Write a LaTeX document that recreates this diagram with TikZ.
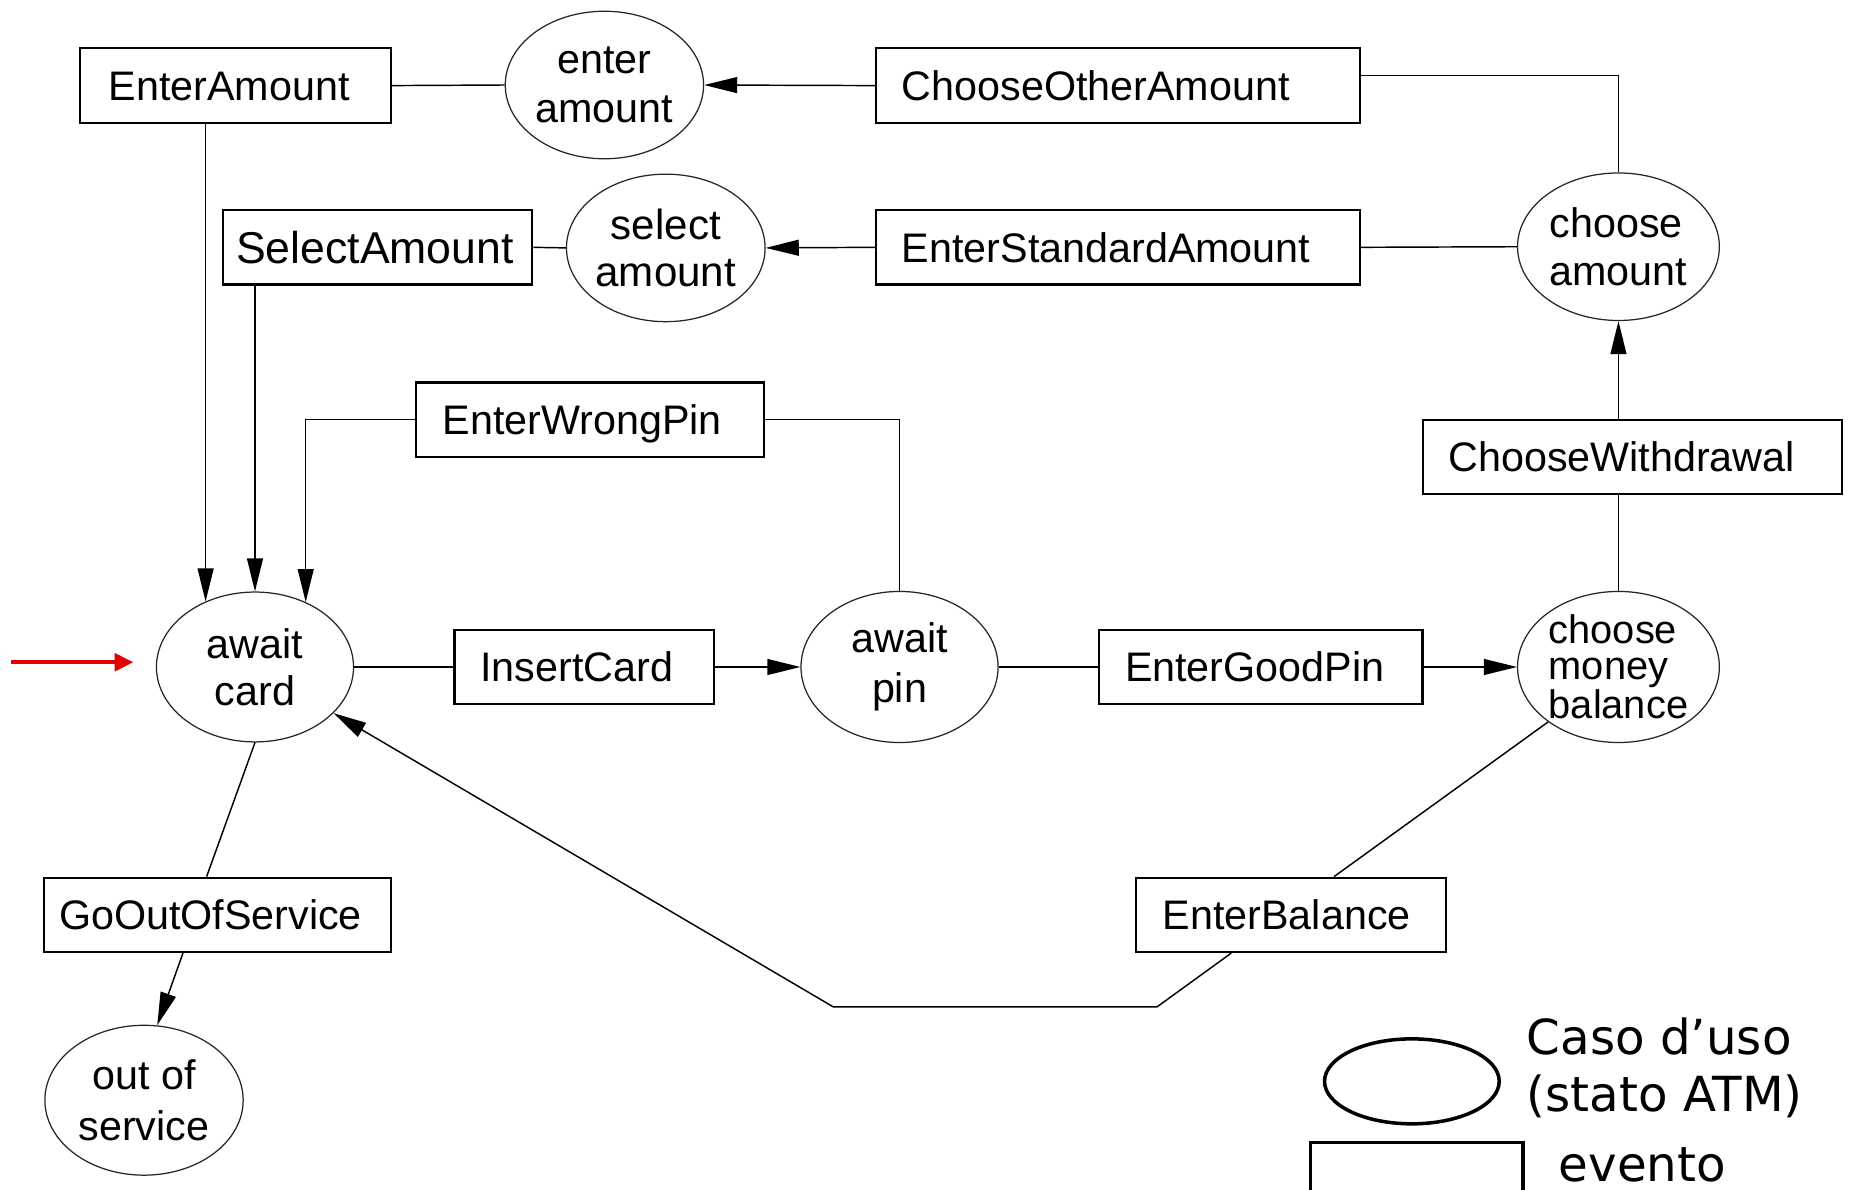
\documentclass[tikz,border=0pt]{standalone}
\usepackage{fontspec}
\setmainfont{Liberation Sans}
\newfontfamily\legendfont{DejaVu Sans}
\usetikzlibrary{shapes.geometric,arrows.meta}
\begin{document}
\begin{tikzpicture}[x=0.02cm,y=-0.02cm,
  box/.style={draw, line width=1pt, rectangle, minimum height=1.26cm, inner ysep=0pt,
    inner xsep=0.44cm, text height=14.2pt, text depth=0pt, align=left,
    font=\fontsize{19.9}{23.9}\selectfont},
  state/.style={draw=black!85, line width=0.6pt, ellipse, inner sep=0pt, align=center,
    font=\fontsize{19.9}{23.3}\selectfont},
  conn/.style={line width=0.7pt},
  arr/.style={conn, -{Triangle[length=0.56cm,width=0.27cm]}},
  startarr/.style={red!90!black, line width=1.9pt, -{Triangle[length=0.32cm,width=0.3cm]}},
  legendtext/.style={font=\legendfont\fontsize{23.3}{27.3}\selectfont, inner sep=0pt, align=left},
]
\useasboundingbox (0,0) rectangle (1568,1008);
\clip (0,0) rectangle (1568,1008);
\fill[white] (0,0) rectangle (1568,1008);

% event boxes
\node[box, text width=4.30cm, inner xsep=0.48cm] (EA)  at (199.5,72.5) {EnterAmount};
\node[box, text width=7.32cm] (COA) at (947,72.5) {ChooseOtherAmount};
\node[box, text width=4.80cm, inner xsep=0.22cm, font=\fontsize{21.5}{24}\selectfont, text height=15.4pt] (SA) at (320,209.5) {SelectAmount};
\node[box, text width=7.32cm] (ESA) at (947,209.5) {EnterStandardAmount};
\node[box, text width=4.98cm, inner xsep=0.46cm] (EWP) at (499.5,355.5) {EnterWrongPin};
\node[box, text width=6.22cm] (CW)  at (1382.5,387) {ChooseWithdrawal};
\node[box, text width=3.52cm] (IC)  at (495,565) {InsertCard};
\node[box, text width=4.60cm] (EGP) at (1068,565) {EnterGoodPin};
\node[box, text width=5.36cm, inner xsep=0.26cm] (GOS) at (184,775) {GoOutOfService};
\node[box, text width=4.34cm, inner xsep=0.46cm] (EB)  at (1093.5,775) {EnterBalance};

% states
\node[state, minimum width=3.36cm, minimum height=2.5cm] (ea) at (512,72) {enter\\amount};
\node[state, minimum width=3.32cm, minimum height=2.5cm, font=\fontsize{20.3}{22.8}\selectfont] (sa) at (564,210) {select\\amount};
\node[state, minimum width=3.42cm, minimum height=2.5cm, align=left] (ca) at (1371,209) {choose\\amount};
\node[state, minimum width=3.34cm, minimum height=2.54cm, font=\fontsize{19.9}{22.8}\selectfont] (ac) at (216,565) {await\\card};
\node[state, minimum width=3.34cm, minimum height=2.56cm, font=\fontsize{19.9}{23.9}\selectfont] (ap) at (762,565) {await\\pin};
\node[state, minimum width=3.42cm, minimum height=2.56cm, align=left, font=\fontsize{19.2}{17.2}\selectfont] (cmb) at (1371,565) {choose\\money\\balance};
\node[state, minimum width=3.36cm, minimum height=2.54cm, font=\fontsize{19.9}{25}\selectfont] (oos) at (122,932) {out of\\service};

% connectors
\draw[conn] (EA.east) -- (ea.west);
\draw[arr] (COA.west) -- (ea.east);
\draw[conn] (COA.east |- 0,64) -| (ca.north);
\draw[conn] (SA.east) -- (sa.west);
\draw[arr] (ESA.west) -- (sa.east);
\draw[conn] (ESA.east) -- (ca.west);
\draw[arr] (CW.north -| ca.south) -- (ca.south);
\draw[conn] (cmb.north) -- (CW.south -| cmb.north);
\draw[arr] (EA.south -| ac.127) -- (ac.127);
\draw[arr] (SA.south -| ac.north) -- (ac.north);
\draw[arr] (EWP.west) -| (ac.52);
\draw[conn] (ap.north) |- (EWP.east);
\draw[conn] (ac.east) -- (IC.west);
\draw[arr] (IC.east) -- (ap.west);
\draw[conn] (ap.east) -- (EGP.west);
\draw[arr] (EGP.east) -- (cmb.west);
\draw[conn] (cmb.218) -- (EB.north -| 1130,0);
\coordinate (c1) at (980,853);
\coordinate (c2) at (706,853);
\draw[arr] (EB.south -| 1043,0) -- (c1) -- (c2) -- (ac);
\draw[conn] (ac.south) -- (GOS.north -| 175,0);
\draw[arr] (GOS.south -| 155,0) -- (oos.80);

% initial arrow
\coordinate (rs) at (9,561);
\coordinate (re) at (113,561);
\draw[startarr] (rs) -- (re);

% legend
\node[ellipse, draw, line width=1.7pt, minimum width=2.96cm, minimum height=1.44cm, inner sep=0pt] (legE) at (1196,916) {};
\node[rectangle, draw, line width=1.7pt, minimum width=3.6cm, minimum height=1.24cm, inner sep=0pt] (legR) at (1200,999) {};
\node[legendtext, anchor=west] (legT1) at (1293,904.5) {Caso d’uso\\(stato ATM)};
\node[legendtext, anchor=base west] (legT2) at (1320,1001) {evento};
\end{tikzpicture}
\end{document}
